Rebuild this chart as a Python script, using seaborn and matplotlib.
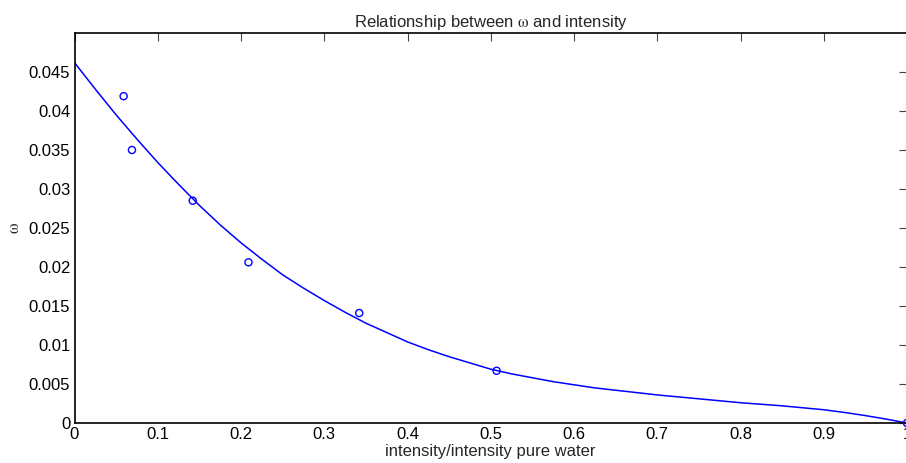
import numpy as np
import pandas as pd
import matplotlib
matplotlib.use("Agg")
import matplotlib.pyplot as plt
import seaborn as sns

# Measured ratio of intensity to pure-water intensity, and omega at each one
ratio = [0.059, 0.069, 0.142, 0.209, 0.342, 0.507, 1.0]
omega = [0.0419, 0.0350, 0.0285, 0.0206, 0.0141, 0.0067, 0.0]

# Fitted trend curve, sampled every 0.025 along the ratio axis
fit_ratio = [0.000, 0.025, 0.050, 0.075, 0.100, 0.125, 0.150, 0.175, 0.200,
             0.225, 0.250, 0.275, 0.300, 0.325, 0.350, 0.375, 0.400, 0.425,
             0.450, 0.475, 0.500, 0.525, 0.550, 0.575, 0.600, 0.625, 0.650,
             0.675, 0.700, 0.725, 0.750, 0.775, 0.800, 0.825, 0.850, 0.875,
             0.900, 0.925, 0.950, 0.975, 1.000]
fit_omega = [0.0462, 0.0428, 0.0395, 0.0364, 0.0334, 0.0306, 0.0279, 0.0254,
             0.0231, 0.0210, 0.0190, 0.0173, 0.0157, 0.0142, 0.0128, 0.0116,
             0.0104, 0.0094, 0.0085, 0.0077, 0.0069, 0.0063, 0.0058, 0.0053,
             0.0049, 0.0045, 0.0042, 0.0039, 0.0036, 0.00335, 0.0031, 0.00285,
             0.0026, 0.0024, 0.0022, 0.00195, 0.0017, 0.00135, 0.00095, 0.0005,
             0.0000]

x_ticks = [0, 0.1, 0.2, 0.3, 0.4, 0.5, 0.6, 0.7, 0.8, 0.9, 1]
x_tick_labels = ["0", "0.1", "0.2", "0.3", "0.4", "0.5", "0.6", "0.7", "0.8", "0.9", "1"]
y_ticks = [0, 0.005, 0.01, 0.015, 0.02, 0.025, 0.03, 0.035, 0.04, 0.045]
y_tick_labels = ["0", "0.005", "0.01", "0.015", "0.02", "0.025", "0.03", "0.035", "0.04", "0.045"]

sns.set_style("white")
plt.rcParams["font.family"] = ["Liberation Sans", "DejaVu Sans"]
plt.rcParams["mathtext.fontset"] = "stix"
plt.rcParams["mathtext.default"] = "rm"

pts = pd.DataFrame({"ratio": ratio, "omega": omega})
fit = pd.DataFrame({"ratio": fit_ratio, "omega": fit_omega})

fig = plt.figure(figsize=(9.06, 4.63), dpi=100)
ax = fig.add_axes([74.5 / 906, 40 / 463, 832.5 / 906, 390 / 463])

sns.lineplot(data=fit, x="ratio", y="omega", ax=ax, color="#0000ff",
             linewidth=1.1, sort=True)
sns.scatterplot(data=pts, x="ratio", y="omega", ax=ax, marker="o", s=26,
                facecolor="none", edgecolor="#0000ff", linewidth=1.0, zorder=3,
                clip_on=False)

ax.set_xlim(0, 1)
ax.set_ylim(0, 0.05)
ax.set_xticks(x_ticks)
ax.set_xticklabels(x_tick_labels)
ax.set_yticks(y_ticks)
ax.set_yticklabels(y_tick_labels)
ax.tick_params(direction="in", length=6, width=0.8, color="#444444",
               top=True, right=True, labelsize=12, pad=3, labelcolor="black")
for sp in ax.spines.values():
    sp.set_visible(True)
    sp.set_color("black")
    sp.set_linewidth(1.2)

ax.set_xlabel("intensity/intensity pure water", fontsize=12, labelpad=1)
ax.set_ylabel(r"$\omega$", fontsize=12, labelpad=5)
ax.set_title(r"Relationship between $\omega$ and intensity", fontsize=12, pad=4)

fig.savefig("out.png", dpi=100)
